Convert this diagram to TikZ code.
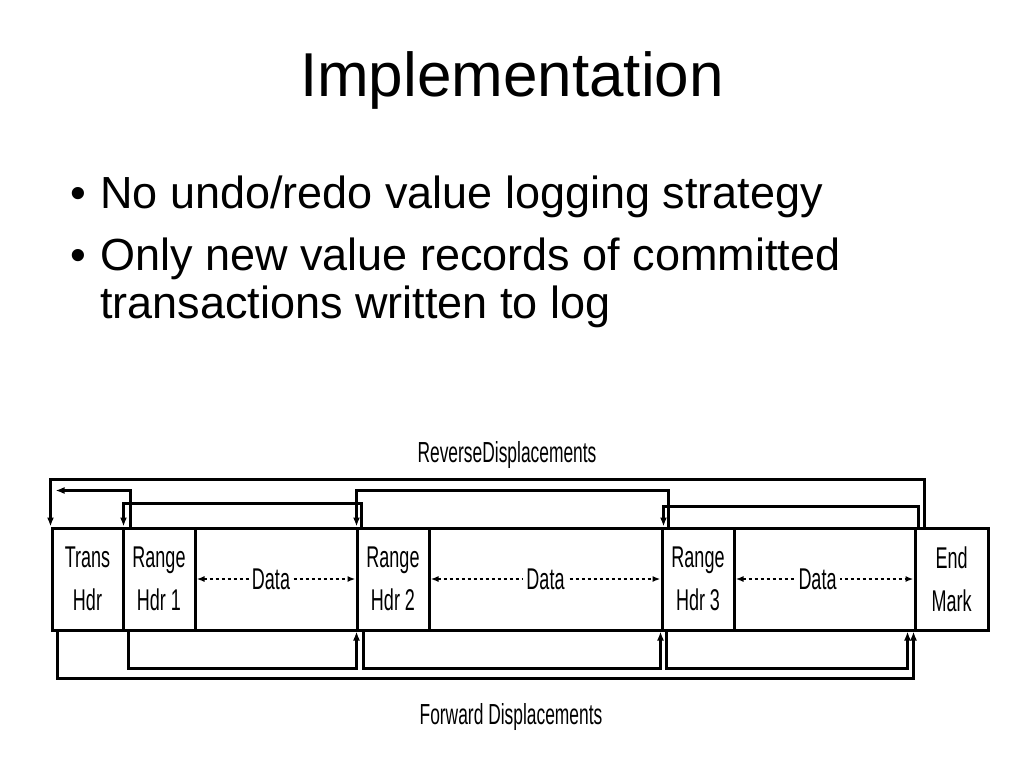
\documentclass[tikz,border=0pt]{standalone}
\usepackage{fontspec}
\setmainfont{Liberation Sans}
\newfontfamily\narrowfont[FakeStretch=0.6]{Liberation Sans}
\usetikzlibrary{arrows.meta,calc}
\begin{document}
\begin{tikzpicture}[x=1pt,y=-1pt,
  box/.style={draw,line width=3pt,minimum height=102pt,inner sep=0pt,align=center,
    font=\narrowfont\fontsize{30}{43}\selectfont},
  conn/.style={line width=3pt},
  tip/.style={-{Latex[length=9pt,width=7pt]}},
  dataarrow/.style={line width=1.8pt,dash pattern=on 3pt off 3pt,
    {Latex[length=8pt,width=6pt]}-{Latex[length=8pt,width=6pt]},shorten <=3pt,shorten >=3pt},
  datalbl/.style={fill=white,inner sep=3pt,font=\narrowfont\fontsize{30}{36}\selectfont},
  lbl/.style={inner sep=0pt,font=\narrowfont\fontsize{29}{34}\selectfont},
  title/.style={inner sep=0pt,font=\fontsize{62}{74}\selectfont},
  bullet/.style={inner sep=0pt,anchor=base west,font=\fontsize{45}{54}\selectfont}]
\useasboundingbox (0,0) rectangle (1024,768);
\fill[white] (0,0) rectangle (1024,768);

\node[title] (ttl) at (512,80) {Implementation};

\node[bullet] (b1) at (70,208) {•};
\node[bullet] (t1) at (100,208) {No undo/redo value logging strategy};
\node[bullet] (b2) at (70,270) {•};
\node[bullet] (t2) at (100,270) {Only new value records of committed};
\node[bullet] (t3) at (100,318) {transactions written to log};

% boxes
\node[box,minimum width=71pt] (th) at (87.5,579) {Trans\\Hdr};
\node[box,minimum width=72pt] (r1) at (159,579) {Range\\Hdr 1};
\node[box,minimum width=162pt] (d1) at (276,579) {};
\node[box,minimum width=72pt] (r2) at (393,579) {Range\\Hdr 2};
\node[box,minimum width=233pt] (d2) at (545.5,579) {};
\node[box,minimum width=72pt] (r3) at (698,579) {Range\\Hdr 3};
\node[box,minimum width=181pt] (d3) at (824.5,579) {};
\node[box,minimum width=73pt] (em) at (951.5,579) {End\\Mark};

% data arrows
\draw[dataarrow] (d1.west) -- (d1.east);
\node[datalbl] (dl1) at ($(d1)+(-5,0)$) {Data};
\draw[dataarrow] (d2.west) -- (d2.east);
\node[datalbl] (dl2) at (d2) {Data};
\draw[dataarrow] (d3.west) -- (d3.east);
\node[datalbl] (dl3) at ($(d3)+(-7,0)$) {Data};

% reverse displacements
\draw[conn,tip] ($(em.north west)+(11,0)$) |- ($(th.north west)+(0,-47)$) -- (th.north west);
\draw[conn,tip] ($(r1.north west)+(9,0)$) |- ($(th.north west)+(5,-36)$);
\draw[conn,tip] ($(r2.north west)+(6,0)$) |- ($(r1.north west)+(2,-23)$) -- ($(r1.north west)+(2,0)$);
\draw[conn,tip] ($(r3.north west)+(8,0)$) |- ($(r2.north west)+(1,-36)$) -- ($(r2.north west)+(1,0)$);
\draw[conn,tip] ($(em.north west)+(5,0)$) |- ($(r3.north west)+(3,-20)$) -- ($(r3.north west)+(3,0)$);

% forward displacements
\draw[conn,tip] ($(th.south west)+(7,0)$) |- ($(em.south west)+(0,47)$) -- (em.south west);
\draw[conn,tip] ($(r1.south west)+(7,0)$) |- ($(r2.south west)+(1,37)$) -- ($(r2.south west)+(1,0)$);
\draw[conn,tip] ($(r2.south west)+(8,0)$) |- ($(r3.south west)+(0,37)$) -- (r3.south west);
\draw[conn,tip] ($(r3.south west)+(6,0)$) |- ($(em.south west)+(-6,37)$) -- ($(em.south west)+(-6,0)$);

\node[lbl] (rev) at (507,455) {ReverseDisplacements};
\node[lbl] (fwd) at (511,717) {Forward Displacements};
\end{tikzpicture}
\end{document}
